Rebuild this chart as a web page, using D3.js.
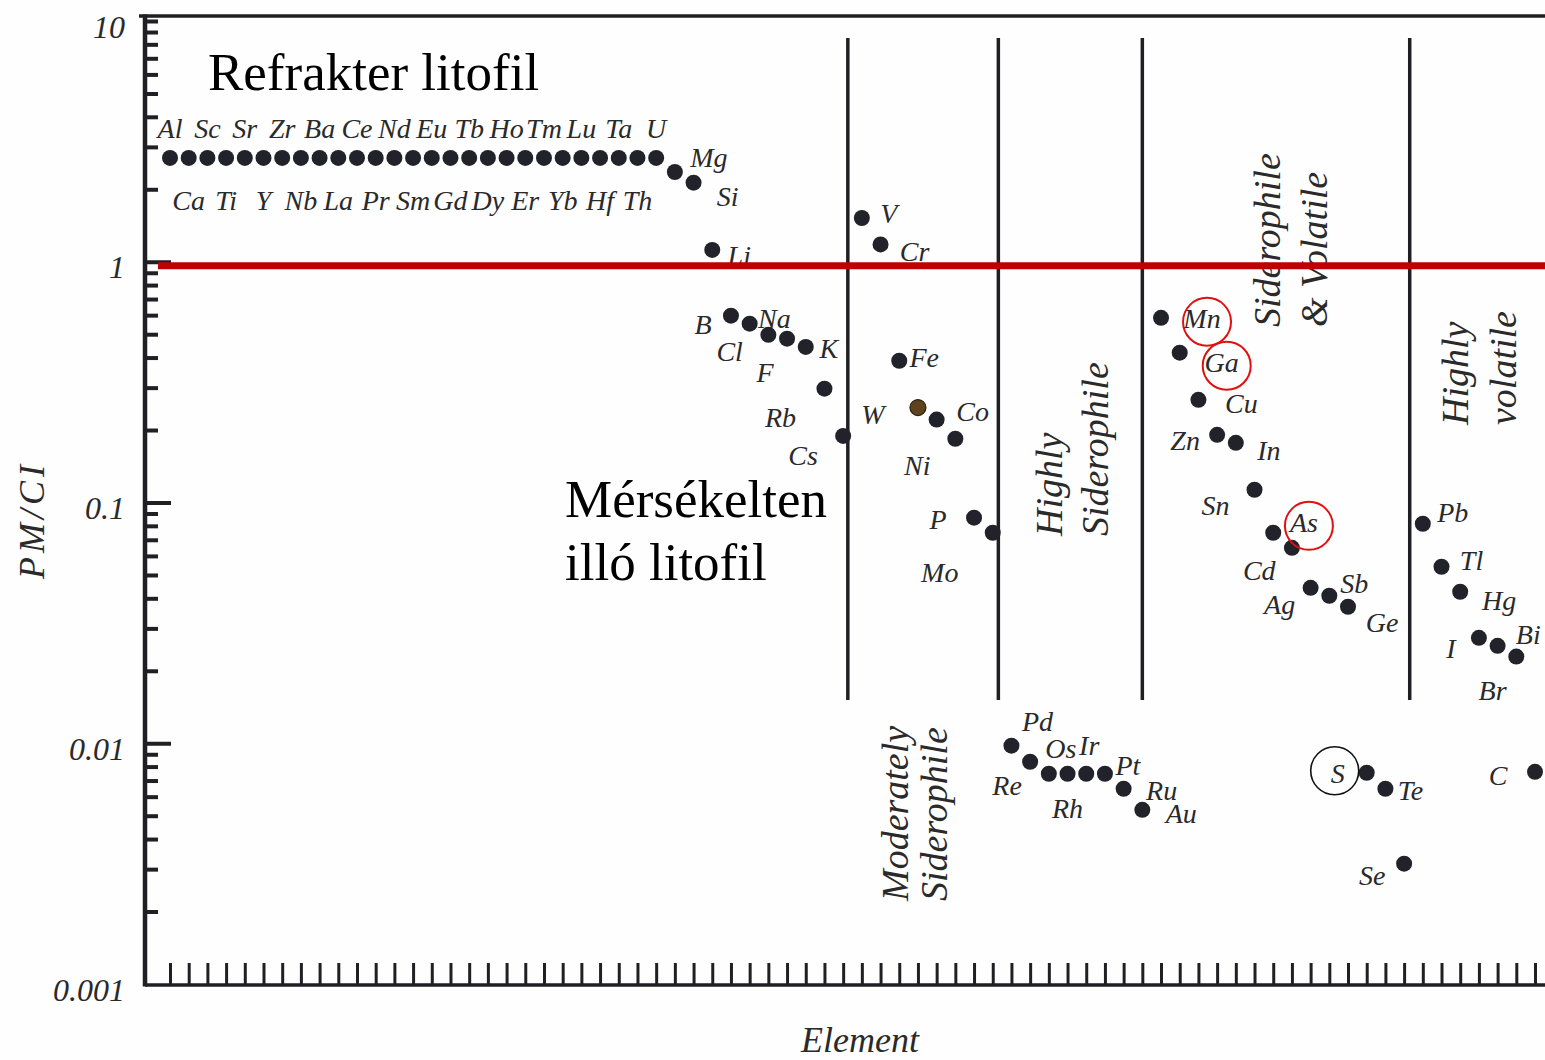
<!DOCTYPE html>
<html>
<head>
<meta charset="utf-8">
<script src="https://cdn.jsdelivr.net/npm/d3@7"></script>
<style>
  html, body { margin: 0; padding: 0; background: #ffffff; }
  svg { display: block; }
  .it { font-family: "Liberation Serif", "DejaVu Serif", serif; font-style: italic; fill: #2a2a2a; }
  .rm { font-family: "Liberation Serif", "Times New Roman", serif; fill: #000; }
</style>
</head>
<body>
<svg id="chart" width="1545" height="1060"></svg>
<script>
// Elements in plotting order (x = position along the sequence)
const elements = [
  "Al","Ca","Sc","Ti","Sr","Y","Zr","Nb","Ba","La","Ce","Pr","Nd","Sm","Eu","Gd","Tb","Dy","Ho","Er","Tm","Yb","Lu","Hf","Ta","Th","U",
  "Mg","Si","Li","B","Cl","Na","F","K","Rb","Cs",
  "V","Cr","Fe","W","Co","Ni","P","Mo",
  "Pd","Re","Os","Rh","Ir","Pt","Ru","Au",
  "Mn","Ga","Cu","Zn","In","Sn","Cd","As","Ag","Sb","Ge","S","Te","Se",
  "Pb","Tl","Hg","I","Br","Bi","C"
];

// Primitive mantle / CI chondrite abundance ratio for each element
const pmCi = [
  2.7, 2.7, 2.7, 2.7, 2.7, 2.7, 2.7, 2.7, 2.7, 2.7, 2.7, 2.7, 2.7, 2.7,
  2.7, 2.7, 2.7, 2.7, 2.7, 2.7, 2.7, 2.7, 2.7, 2.7, 2.7, 2.7, 2.7,
  2.36, 2.13, 1.12, 0.597, 0.553, 0.497, 0.479, 0.443, 0.297, 0.189,
  1.52, 1.18, 0.388, 0.248, 0.221, 0.184, 0.0865, 0.0749,
  0.00977, 0.00838, 0.00747, 0.00747, 0.00747, 0.00747, 0.00647, 0.00529,
  0.585, 0.419, 0.267, 0.191, 0.177, 0.113, 0.0749, 0.0648, 0.0442, 0.0410, 0.0369, 0.00754, 0.00647, 0.00316,
  0.0816, 0.0541, 0.0426, 0.0274, 0.0254, 0.0229, 0.00761
];

// Refractory lithophiles at the start of the sequence (labels alternate above / below)
const refractoryCount = 27;

// Major y ticks and their printed labels
const yMajor = [10, 1, 0.1, 0.01, 0.001];
const yMajorLabels = ["10", "1", "0.1", "0.01", "0.001"];

// Annotated element labels
const redCircled = ["Mn", "Ga", "As"];
const blackCircled = ["S"];

// Reference level PM/CI = 1
const refLevel = [1];

// ---------- layout ----------
const svg = d3.select("#chart");
const W = 1545, H = 1060;
svg.append("rect").attr("width", W).attr("height", H).attr("fill", "#fefefe");

const x = d3.scaleLinear().domain([0, elements.length - 1]).range([170, 1535]);
const y = d3.scaleLog().domain([0.001, 10]).range([984, 21]);

const axisX = 145, axisBottom = 985, frameTop = 16;

// label offsets (dx, dy) from each dot, in pixels
const labelOffset = {
  Mg:[34,-15], Si:[34,14], Li:[27,5], B:[-28,9], Cl:[-20,28], Na:[6,-17], F:[-22,33],
  K:[23,1], Rb:[-44,29], Cs:[-40,19], V:[27,-5], Cr:[34,7], Fe:[25,-4], W:[-45,7],
  Co:[36,-8], Ni:[-38,26], P:[-36,2], Mo:[-53,39], Pd:[26,-24], Re:[-23,23],
  Os:[12,-26], Rh:[0,34], Ir:[3,-29], Pt:[23,-9], Ru:[38,1], Au:[39,3],
  Mn:[41,0], Ga:[42,9], Cu:[43,3], Zn:[-32,5], In:[33,7], Sn:[-39,15], Cd:[-14,37],
  As:[12,-26], Ag:[-31,16], Sb:[25,-13], Ge:[34,15], S:[-29,0], Te:[25,1], Se:[-32,11],
  Pb:[30,-12], Tl:[30,-7], Hg:[39,8], I:[-28,10], Br:[-5,44], Bi:[12,-22], C:[-37,3]
};
function offsetOf(name, i) {
  if (i < refractoryCount) return i % 2 === 0 ? [0, -30] : [0, 42];
  return labelOffset[name] || [20, 0];
}

const data = elements.map((e, i) => ({ name: e, i, v: pmCi[i], off: offsetOf(e, i) }));

// ---------- frame ----------
const frame = svg.append("g").attr("stroke", "#1f1f24").attr("fill", "none");
frame.append("line").attr("x1", 139).attr("x2", W).attr("y1", frameTop).attr("y2", frameTop).attr("stroke-width", 3.5);
frame.append("line").attr("x1", axisX).attr("x2", axisX).attr("y1", frameTop - 1.5).attr("y2", axisBottom + 1.5).attr("stroke-width", 4.5);
frame.append("line").attr("x1", axisX).attr("x2", W).attr("y1", axisBottom).attr("y2", axisBottom).attr("stroke-width", 3.5);

// ---------- y axis ----------
const yMinor = [];
for (let e = -3; e < 1; e++) for (let m = 2; m <= 9; m++) yMinor.push(m * Math.pow(10, e));

const gMinor = svg.append("g").attr("transform", `translate(${axisX + 2},0)`)
  .call(d3.axisRight(y).tickValues(yMinor).tickSize(11).tickFormat(""));
const gMajor = svg.append("g").attr("transform", `translate(${axisX + 2},0)`)
  .call(d3.axisRight(y).tickValues([1, 0.1, 0.01]).tickSize(24).tickFormat(""));
const gTop = svg.append("g").attr("transform", `translate(${axisX + 2},0)`)
  .call(d3.axisRight(y).tickValues([10]).tickSize(11).tickFormat(""));
[gMinor, gMajor, gTop].forEach(g => {
  g.select(".domain").remove();
  g.selectAll(".tick line").attr("stroke", "#1f1f24").attr("stroke-width", 4);
});

const gYLab = svg.append("g").attr("transform", `translate(${axisX},0)`)
  .call(d3.axisLeft(y).tickValues(yMajor).tickSize(0).tickPadding(20)
    .tickFormat(d => yMajorLabels[yMajor.indexOf(d)]));
gYLab.select(".domain").remove();
gYLab.selectAll(".tick text").attr("class", "it").attr("font-size", 32).attr("dy", "0.5em")
  .attr("fill", "#2a2a2a").attr("font-family", null);

// ---------- x axis (one tick per element) ----------
const gX = svg.append("g").attr("transform", `translate(0,${axisBottom})`)
  .call(d3.axisTop(x).tickValues(d3.range(elements.length)).tickSize(22).tickFormat(""));
gX.select(".domain").remove();
gX.selectAll(".tick line").attr("stroke", "#1f1f24").attr("stroke-width", 3);

// ---------- group separators ----------
const groupBreaks = [36.25, 44.3, 52, 66.3];
svg.append("g").selectAll("line").data(groupBreaks).join("line")
  .attr("x1", d => x(d)).attr("x2", d => x(d))
  .attr("y1", 38).attr("y2", 700)
  .attr("stroke", "#1f1f24").attr("stroke-width", 3.5);

// ---------- element labels ----------
svg.append("g").selectAll("text").data(data).join("text")
  .attr("class", "it")
  .attr("font-size", 28)
  .attr("text-anchor", "middle")
  .attr("x", d => x(d.i) + d.off[0])
  .attr("y", d => y(d.v) + d.off[1])
  .attr("dy", "0.35em")
  .text(d => d.name);

// ---------- dots ----------
svg.append("g").selectAll("circle").data(data).join("circle")
  .attr("cx", d => x(d.i))
  .attr("cy", d => y(d.v))
  .attr("r", 8)
  .attr("fill", d => d.name === "W" ? "#5e421c" : "#22222b")
  .attr("stroke", d => d.name === "W" ? "#2a2218" : "none")
  .attr("stroke-width", 1.2);

// ---------- circled labels ----------
const circ = svg.append("g").attr("fill", "none");
circ.selectAll("circle.red").data(data.filter(d => redCircled.includes(d.name))).join("circle")
  .attr("class", "red")
  .attr("cx", d => x(d.i) + d.off[0] + 5)
  .attr("cy", d => y(d.v) + d.off[1] + 4)
  .attr("r", 24)
  .attr("stroke", "#e01010").attr("stroke-width", 2);
circ.selectAll("circle.blk").data(data.filter(d => blackCircled.includes(d.name))).join("circle")
  .attr("class", "blk")
  .attr("cx", d => x(d.i) + d.off[0] - 3)
  .attr("cy", d => y(d.v) + d.off[1] - 2)
  .attr("r", 24)
  .attr("stroke", "#111").attr("stroke-width", 1.6);

// ---------- group titles (rotated) ----------
const groupTitles = [
  { lines: ["Moderately", "Siderophile"], xs: [908, 947], y0: 901 },
  { lines: ["Highly", "Siderophile"], xs: [1062, 1108], y0: 536 },
  { lines: ["Siderophile", "& Volatile"], xs: [1280, 1327], y0: 327 },
  { lines: ["Highly", "volatile"], xs: [1468, 1516], y0: 425 }
];
groupTitles.forEach(t => {
  t.lines.forEach((ln, k) => {
    svg.append("text").attr("class", "it")
      .attr("font-size", 38)
      .attr("transform", `translate(${t.xs[k]},${t.y0}) rotate(-90)`)
      .attr("text-anchor", "start")
      .text(ln);
  });
});

// ---------- region captions ----------
svg.append("text").attr("class", "rm").attr("font-size", 53).attr("x", 208).attr("y", 90).text("Refrakter litofil");
svg.append("text").attr("class", "rm").attr("font-size", 53).attr("x", 565).attr("y", 517).text("Mérsékelten");
svg.append("text").attr("class", "rm").attr("font-size", 53).attr("x", 565).attr("y", 580).text("illó litofil");

// ---------- axis titles ----------
svg.append("text").attr("class", "it").attr("font-size", 36)
  .attr("transform", `translate(44,520) rotate(-90)`)
  .attr("text-anchor", "middle").attr("letter-spacing", 4).text("PM/CI");
svg.append("text").attr("class", "it").attr("font-size", 36)
  .attr("x", 860).attr("y", 1052).attr("text-anchor", "middle").text("Element");

// ---------- PM/CI = 1 reference line ----------
svg.append("g").selectAll("line").data(refLevel).join("line")
  .attr("x1", 158).attr("x2", W)
  .attr("y1", d => y(d) + 4).attr("y2", d => y(d) + 4)
  .attr("stroke", "#c00000").attr("stroke-width", 7);
</script>
</body>
</html>
